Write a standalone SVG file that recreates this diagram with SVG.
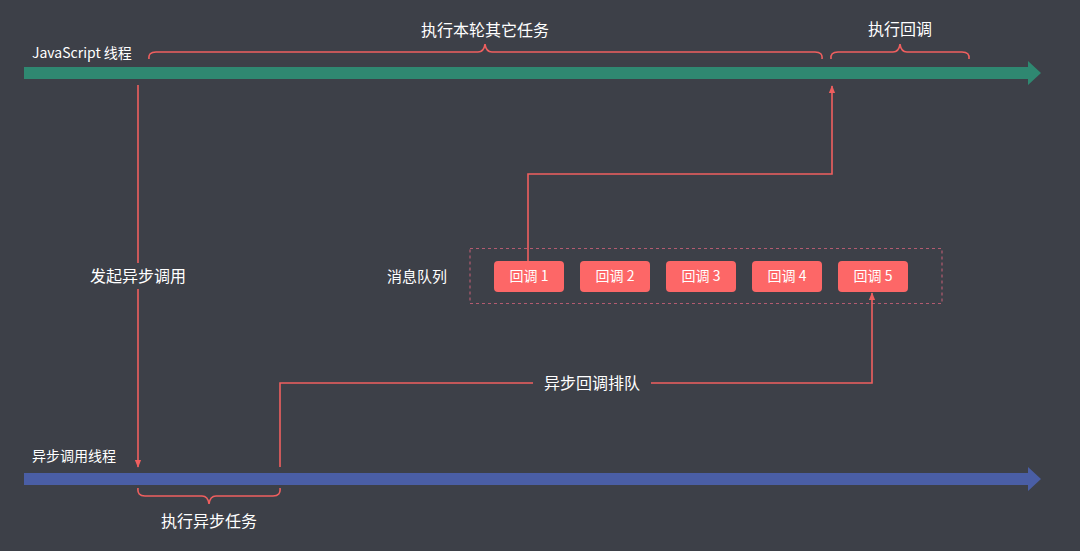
<svg xmlns="http://www.w3.org/2000/svg" width="1080" height="551" viewBox="0 0 1080 551">
  <defs>
    <style>
      .lbl { font-family: "Noto Sans CJK SC", "Liberation Sans", sans-serif; fill: #ffffff; }
      .ln { fill: none; stroke: #ef5f5f; stroke-width: 1.6; }
      .brace { fill: none; stroke: #ef5f5f; stroke-width: 1.6; }
      .node rect { fill: #fd6767; }
      .node text { font-family: "Noto Sans CJK SC", "Liberation Sans", sans-serif; font-size: 14px; fill: #ffffff; text-anchor: middle; }
    </style>
    <marker id="ah" viewBox="0 0 10 10" refX="9" refY="5" markerWidth="5" markerHeight="5" orient="auto">
      <path d="M0,1 L10,5 L0,9 Z" fill="#ef5f5f"/>
    </marker>
  </defs>
  <rect width="1080" height="551" fill="#3d4048"/>

  <g id="js-thread">
    <path d="M24,67 H1028 V61 L1041,73 L1028,85 V79 H24 Z" fill="#2f8871"/>
    <text class="lbl" x="32" y="58" font-size="14">JavaScript 线程</text>
  </g>

  <g id="async-thread">
    <path d="M24,473 H1028 V467 L1041,479 L1028,491 V485 H24 Z" fill="#4a5ea5"/>
    <text class="lbl" x="32" y="461" font-size="14">异步调用线程</text>
  </g>

  <g id="brace-other">
    <path class="brace" d="M149,59 Q148,52 156,52 H478 Q484,52 485,44 Q486,52 492,52 H815 Q823,52 822,59"/>
    <text class="lbl" x="485" y="36" font-size="16" text-anchor="middle">执行本轮其它任务</text>
  </g>

  <g id="brace-callback">
    <path class="brace" d="M831,59 Q830,52 838,52 H893 Q899,52 900,44 Q901,52 907,52 H962 Q970,52 969,59"/>
    <text class="lbl" x="900" y="35" font-size="16" text-anchor="middle">执行回调</text>
  </g>

  <g id="brace-async">
    <path class="brace" d="M138,488 Q137,496 145,496 H202 Q208,496 209,504 Q210,496 216,496 H273 Q281,496 280,488"/>
    <text class="lbl" x="209" y="527" font-size="16" text-anchor="middle">执行异步任务</text>
  </g>

  <g id="queue">
    <rect x="470" y="248.5" width="472" height="55" fill="none" stroke="#b35b70" stroke-width="1.2" stroke-dasharray="3,3"/>
    <text class="lbl" x="417" y="282" font-size="15" text-anchor="middle">消息队列</text>
  </g>

  <g id="cb1" class="node"><rect x="494" y="261" width="70" height="31" rx="4"/><text x="529" y="281">回调 1</text></g>
  <g id="cb2" class="node"><rect x="580" y="261" width="70" height="31" rx="4"/><text x="615" y="281">回调 2</text></g>
  <g id="cb3" class="node"><rect x="666" y="261" width="70" height="31" rx="4"/><text x="701" y="281">回调 3</text></g>
  <g id="cb4" class="node"><rect x="752" y="261" width="70" height="31" rx="4"/><text x="787" y="281">回调 4</text></g>
  <g id="cb5" class="node"><rect x="838" y="261" width="70" height="31" rx="4"/><text x="873" y="281">回调 5</text></g>

  <g id="connectors">
    <path class="ln" d="M138,85 V263"/>
    <path class="ln" d="M138,289 V467" marker-end="url(#ah)"/>
    <text class="lbl" x="138" y="282" font-size="16" text-anchor="middle">发起异步调用</text>

    <path class="ln" d="M280,467 V383 H533"/>
    <path class="ln" d="M651,383 H872 V293" marker-end="url(#ah)"/>
    <text class="lbl" x="592" y="389" font-size="16" text-anchor="middle">异步回调排队</text>

    <path class="ln" d="M528,261 V174 H832 V86" marker-end="url(#ah)"/>
  </g>
</svg>
